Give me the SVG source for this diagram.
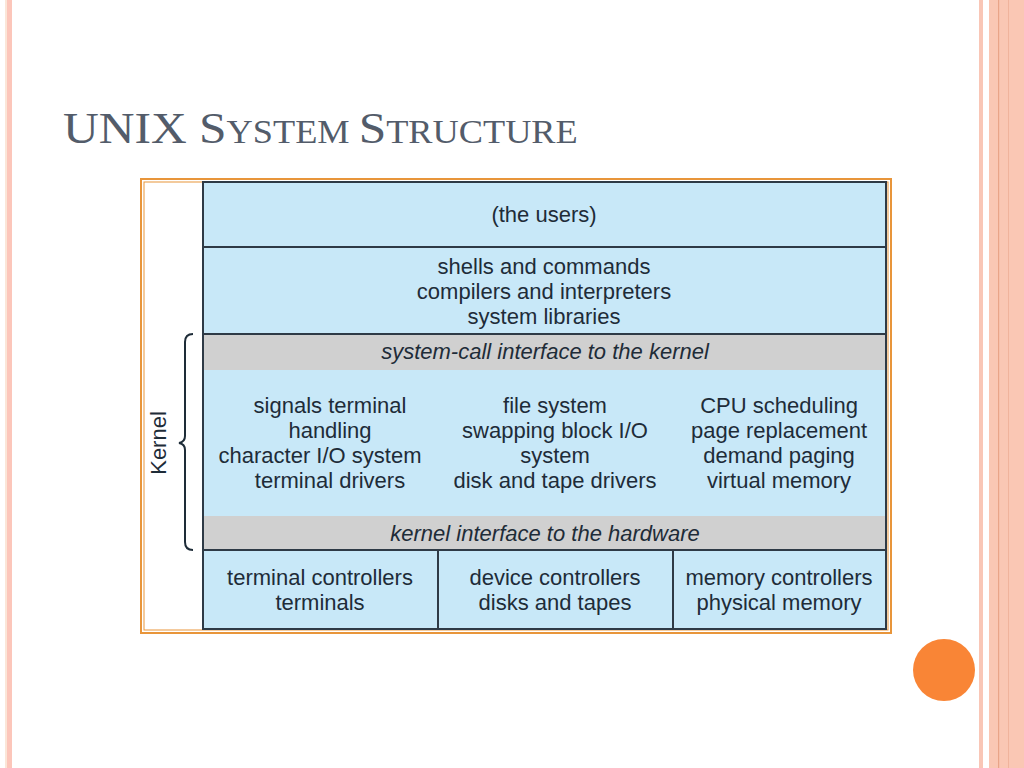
<svg xmlns="http://www.w3.org/2000/svg" width="1024" height="768" viewBox="0 0 1024 768">
<style>
.t{font-family:"Liberation Sans",Arial,sans-serif;font-size:22px;fill:#1e2c38;text-anchor:middle}
.i{font-style:italic}
.ln{stroke:#2e3a46;stroke-width:2;fill:none}
.title{font-family:"Liberation Serif","Times New Roman",serif;fill:#535c6a}
</style>
<rect width="1024" height="768" fill="#ffffff"/>
<g id="decor">
<rect x="5" y="0" width="2" height="768" fill="#fbe6d8"/>
<rect x="7" y="0" width="5" height="768" fill="#fcc6ba"/>
<rect x="979" y="0" width="4" height="768" fill="#f9c6b6"/>
<rect x="989" y="0" width="35" height="768" fill="#fac7b4"/>
<rect x="998" y="0" width="1.2" height="768" fill="#e9a488"/>
<rect x="1008" y="0" width="1" height="768" fill="#f0b39c"/>
<circle cx="944" cy="670" r="31" fill="#f98536"/>
</g>
<g id="title">
<text class="title" transform="translate(63 143) scale(1.1 1)"><tspan font-size="45">UNIX S</tspan><tspan font-size="33">YSTEM </tspan><tspan font-size="45">S</tspan><tspan font-size="33">TRUCTURE</tspan></text>
</g>
<g id="frame">
<rect x="141" y="179" width="750" height="454" fill="#ffffff" stroke="#e8953a" stroke-width="2"/>
<rect x="144" y="182" width="744" height="448" fill="none" stroke="#e8953a" stroke-width="1"/>
</g>
<g id="users">
<rect x="203" y="182" width="683" height="65" fill="#c8e8f8"/>
<text class="t" x="544" y="222">(the users)</text>
</g>
<g id="shells">
<rect x="203" y="247" width="683" height="87" fill="#c8e8f8"/>
<text class="t" x="544" y="274">shells and commands</text>
<text class="t" x="544" y="299">compilers and interpreters</text>
<text class="t" x="544" y="324">system libraries</text>
</g>
<g id="syscall">
<rect x="203" y="334" width="683" height="36" fill="#d0d0d0"/>
<text class="t i" x="545" y="359">system-call interface to the kernel</text>
</g>
<g id="kernel-services">
<rect x="203" y="370" width="683" height="146" fill="#c8e8f8"/>
<text class="t" x="330" y="413">signals terminal</text>
<text class="t" x="330" y="438">handling</text>
<text class="t" x="320" y="463">character I/O system</text>
<text class="t" x="330" y="488">terminal drivers</text>
<text class="t" x="555" y="413">file system</text>
<text class="t" x="555" y="438">swapping block I/O</text>
<text class="t" x="555" y="463">system</text>
<text class="t" x="555" y="488">disk and tape drivers</text>
<text class="t" x="779" y="413">CPU scheduling</text>
<text class="t" x="779" y="438">page replacement</text>
<text class="t" x="779" y="463">demand paging</text>
<text class="t" x="779" y="488">virtual memory</text>
</g>
<g id="hwiface">
<rect x="203" y="516" width="683" height="34" fill="#d0d0d0"/>
<text class="t i" x="545" y="541">kernel interface to the hardware</text>
</g>
<g id="terminals">
<rect x="203" y="550" width="235" height="79" fill="#c8e8f8"/>
<text class="t" x="320" y="585">terminal controllers</text>
<text class="t" x="320" y="610">terminals</text>
</g>
<g id="devices">
<rect x="438" y="550" width="235" height="79" fill="#c8e8f8"/>
<text class="t" x="555" y="585">device controllers</text>
<text class="t" x="555" y="610">disks and tapes</text>
</g>
<g id="memory">
<rect x="673" y="550" width="213" height="79" fill="#c8e8f8"/>
<text class="t" x="779" y="585">memory controllers</text>
<text class="t" x="779" y="610">physical memory</text>
</g>
<g id="connectors">
<rect x="203" y="182" width="683" height="447" class="ln"/>
<line x1="203" y1="247" x2="886" y2="247" class="ln"/>
<line x1="203" y1="334" x2="886" y2="334" class="ln"/>
<line x1="203" y1="550" x2="886" y2="550" class="ln"/>
<line x1="438" y1="550" x2="438" y2="629" class="ln"/>
<line x1="673" y1="550" x2="673" y2="629" class="ln"/>
</g>
<g id="kernel-brace">
<path d="M193 334 Q185 334 185 342 L185 436 Q185 442 179 443 Q185 444 185 450 L185 542 Q185 550 193 550" fill="none" stroke="#1e2c38" stroke-width="2"/>
<text class="t" transform="translate(166 443) rotate(-90)">Kernel</text>
</g>
</svg>
